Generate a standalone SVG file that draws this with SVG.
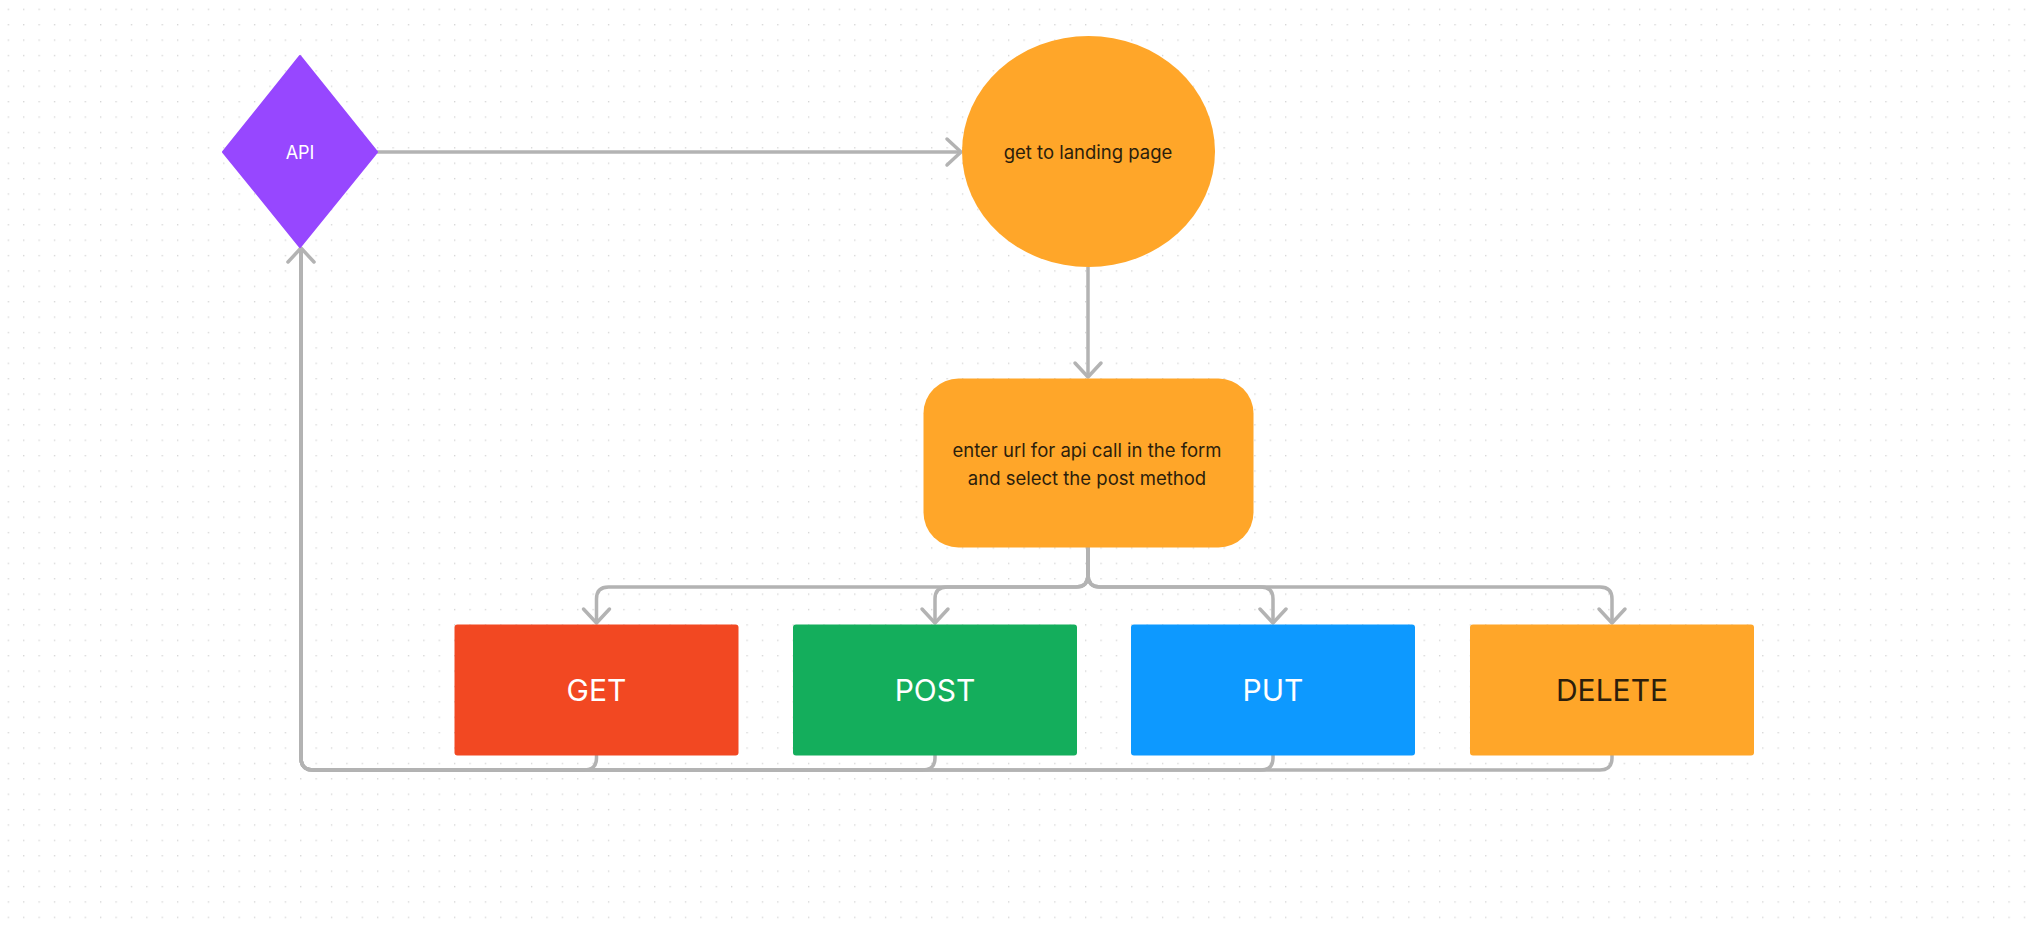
<svg xmlns="http://www.w3.org/2000/svg" width="2026" height="931" viewBox="0 0 2026 931">
  <defs>
    <pattern id="dots" patternUnits="userSpaceOnUse" x="0" y="0" width="15.39" height="15.39">
      <rect x="7.7" y="8.7" width="1.3" height="1.3" fill="#d2d2d2"/>
    </pattern>
    <marker id="arr" markerUnits="userSpaceOnUse" viewBox="-20 -20 40 40" markerWidth="40" markerHeight="40" refX="0" refY="0" orient="auto" overflow="visible">
      <path d="M-14,-13 L0,0 L-14,13" fill="none" stroke="#b3b3b3" stroke-width="3.5" stroke-linecap="round" stroke-linejoin="round"/>
    </marker>
  </defs>
  <style>
    .conn { fill: none; stroke: #b3b3b3; stroke-width: 3.5; stroke-linejoin: round; }
    .lbl { font-family: Inter, "Liberation Sans", sans-serif; text-anchor: middle; }
    .dark { fill: #2c1e0c; }
    .light { fill: #ffffff; }
  </style>
  <rect x="0" y="0" width="2026" height="931" fill="#ffffff"/>
  <rect x="0" y="0" width="2026" height="931" fill="url(#dots)"/>

  <g id="connectors">
    <path class="conn" d="M377 152 H961" marker-end="url(#arr)"/>
    <path class="conn" d="M1088 267 V377" marker-end="url(#arr)"/>
    <path class="conn" d="M1088 547 V575 Q1088 587 1076 587 H608.5 Q596.5 587 596.5 599 V623" marker-end="url(#arr)"/>
    <path class="conn" d="M1088 547 V575 Q1088 587 1076 587 H947 Q935 587 935 599 V623" marker-end="url(#arr)"/>
    <path class="conn" d="M1088 547 V575 Q1088 587 1100 587 H1261 Q1273 587 1273 599 V623" marker-end="url(#arr)"/>
    <path class="conn" d="M1088 547 V575 Q1088 587 1100 587 H1600 Q1612 587 1612 599 V623" marker-end="url(#arr)"/>
    <path class="conn" d="M596.5 755 V758 Q596.5 770 584.5 770 H313 Q301 770 301 758 V248" marker-end="url(#arr)"/>
    <path class="conn" d="M935 755 V758 Q935 770 923 770 H313 Q301 770 301 758 V248"/>
    <path class="conn" d="M1273 755 V758 Q1273 770 1261 770 H313 Q301 770 301 758 V248"/>
    <path class="conn" d="M1612 755 V758 Q1612 770 1600 770 H313 Q301 770 301 758 V248"/>
  </g>

  <g id="node-api">
    <polygon points="300,56 377,152 300,247 223,152" fill="#9747ff" stroke="#9747ff" stroke-width="2" stroke-linejoin="round"/>
    <text class="lbl light" x="300" y="158.5" font-size="18">API</text>
  </g>

  <g id="node-landing">
    <ellipse cx="1088.5" cy="151.5" rx="126.5" ry="115.5" fill="#ffa629"/>
    <text class="lbl dark" x="1088" y="159" font-size="18.5">get to landing page</text>
  </g>

  <g id="node-form">
    <rect x="923.5" y="378.5" width="330" height="169" rx="35" ry="35" fill="#ffa629"/>
    <text class="lbl dark" x="1087" y="456.5" font-size="18.5">enter url for api call in the form</text>
    <text class="lbl dark" x="1087" y="484.5" font-size="18.5">and select the post method</text>
  </g>

  <g id="node-get">
    <rect x="454.5" y="624.5" width="284" height="131" rx="3" fill="#f24822"/>
    <text class="lbl light" x="596.5" y="700.5" font-size="30">GET</text>
  </g>

  <g id="node-post">
    <rect x="793" y="624.5" width="284" height="131" rx="3" fill="#14ae5c"/>
    <text class="lbl light" x="935" y="700.5" font-size="30">POST</text>
  </g>

  <g id="node-put">
    <rect x="1131" y="624.5" width="284" height="131" rx="3" fill="#0d99ff"/>
    <text class="lbl light" x="1273" y="700.5" font-size="30">PUT</text>
  </g>

  <g id="node-delete">
    <rect x="1470" y="624.5" width="284" height="131" rx="3" fill="#ffa629"/>
    <text class="lbl dark" x="1612" y="700.5" font-size="30">DELETE</text>
  </g>
</svg>
